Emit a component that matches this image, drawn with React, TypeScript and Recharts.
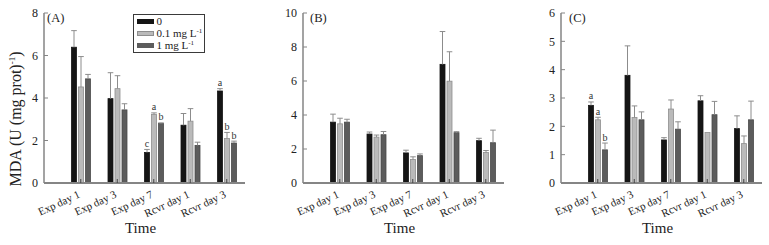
import React from 'react';
import { BarChart, Bar, XAxis, YAxis, Legend, Label } from 'recharts';

const FONT = '"Liberation Serif", "Times New Roman", serif';

const categories = ['Exp day 1', 'Exp day 3', 'Exp day 7', 'Rcvr day 1', 'Rcvr day 3'];
const seriesNames = ['0', '0.1 mg L', '1 mg L'];

// Panel A
const aCtrl = [6.39, 3.97, 1.44, 2.72, 4.33];
const aCtrlErr = [0.78, 1.22, 0.14, 0.55, 0.11];
const aCtrlSig = ['', '', 'c', '', 'a'];
const aLow = [4.52, 4.44, 3.23, 2.91, 2.09];
const aLowErr = [1.43, 0.61, 0.07, 0.59, 0.29];
const aLowSig = ['', '', 'a', '', 'b'];
const aHigh = [4.9, 3.44, 2.8, 1.77, 1.88];
const aHighErr = [0.21, 0.29, 0.03, 0.15, 0.09];
const aHighSig = ['', '', 'b', '', 'b'];
const aTicks = [0, 2, 4, 6, 8];

// Panel B
const bCtrl = [3.58, 2.88, 1.77, 6.98, 2.49];
const bCtrlErr = [0.47, 0.12, 0.16, 1.93, 0.14];
const bLow = [3.48, 2.7, 1.38, 5.99, 1.79];
const bLowErr = [0.33, 0.12, 0.16, 1.73, 0.12];
const bHigh = [3.58, 2.84, 1.61, 2.96, 2.37];
const bHighErr = [0.17, 0.19, 0.1, 0.06, 0.74];
const bTicks = [0, 2, 4, 6, 8, 10];

// Panel C
const cCtrl = [2.74, 3.8, 1.52, 2.9, 1.92];
const cCtrlErr = [0.12, 1.04, 0.08, 0.18, 0.45];
const cCtrlSig = ['a', '', '', '', ''];
const cLow = [2.23, 2.31, 2.61, 1.78, 1.39];
const cLowErr = [0.09, 0.41, 0.32, 0, 0.27];
const cLowSig = ['a', '', '', '', ''];
const cHigh = [1.17, 2.23, 1.9, 2.41, 2.23];
const cHighErr = [0.24, 0.28, 0.26, 0.47, 0.66];
const cHighSig = ['b', '', '', '', ''];
const cTicks = [0, 1, 2, 3, 4, 5, 6];

const empty = ['', '', '', '', ''];

const build = (
  ctrl: number[], ctrlErr: number[], ctrlSig: string[],
  low: number[], lowErr: number[], lowSig: string[],
  high: number[], highErr: number[], highSig: string[]
) =>
  categories.map((time, i) => ({
    time,
    ctrl: ctrl[i], ctrlErr: ctrlErr[i], ctrlSig: ctrlSig[i],
    low: low[i], lowErr: lowErr[i], lowSig: lowSig[i],
    high: high[i], highErr: highErr[i], highSig: highSig[i],
  }));

const dataA = build(aCtrl, aCtrlErr, aCtrlSig, aLow, aLowErr, aLowSig, aHigh, aHighErr, aHighSig);
const dataB = build(bCtrl, bCtrlErr, empty, bLow, bLowErr, empty, bHigh, bHighErr, empty);
const dataC = build(cCtrl, cCtrlErr, cCtrlSig, cLow, cLowErr, cLowSig, cHigh, cHighErr, cHighSig);

const COLORS = { ctrl: '#151515', low: '#bababa', high: '#5c5c5c' };
const STROKES = { ctrl: '#151515', low: '#8e8e8e', high: '#4a4a4a' };

const makeShape = (key: 'ctrl' | 'low' | 'high') => (props: any) => {
  const { x, y, width, height, payload } = props;
  const v = payload[key];
  const e = payload[key + 'Err'] || 0;
  const s = payload[key + 'Sig'];
  const k = v ? height / v : 0;
  const top = y - e * k;
  const cx = x + width / 2;
  return (
    <g>
      <rect x={x} y={y} width={width} height={height} fill={COLORS[key]} stroke={STROKES[key]} strokeWidth={0.8} />
      {e > 0 && (
        <g stroke="#8c8c8c" strokeWidth={1}>
          <line x1={cx} x2={cx} y1={y} y2={top} />
          <line x1={x - 0.3} x2={x + width + 0.3} y1={top} y2={top} />
        </g>
      )}
      {s ? (
        <text x={cx} y={top - 2.5} textAnchor="middle" fontSize={10} fontFamily={FONT} fill="#333">
          {s}
        </text>
      ) : null}
    </g>
  );
};

const XTick = (props: any) => {
  const { x, y, payload } = props;
  return (
    <text
      x={x}
      y={y}
      transform={`rotate(-25 ${x} ${y})`}
      textAnchor="end"
      fontSize={11}
      fontFamily={FONT}
      fill="#222"
    >
      {payload.value}
    </text>
  );
};

const renderLegend = (props: any) => {
  const { payload } = props;
  return (
    <div
      style={{
        border: '1.5px solid #3a3a3a',
        width: 72,
        height: 39,
        boxSizing: 'border-box',
        padding: '0 0 0 3px',
        fontFamily: FONT,
        fontSize: 11,
        color: '#222',
        background: '#fff',
        whiteSpace: 'nowrap',
        overflow: 'hidden',
      }}
    >
      {(payload || []).map((e: any, i: number) => (
        <div key={i} style={{ display: 'flex', alignItems: 'center', height: 12.2 }}>
          <span
            style={{
              display: 'inline-block',
              width: 17,
              height: 5,
              boxSizing: 'border-box',
              background: e.color,
              border: `1px solid ${i === 1 ? '#8e8e8e' : e.color}`,
              marginRight: 2.5,
            }}
          />
          <span style={{ lineHeight: '11px' }}>
            {e.value}
            {i > 0 ? <sup style={{ fontSize: 7, lineHeight: 0, verticalAlign: 4 }}>-1</sup> : null}
          </span>
        </div>
      ))}
    </div>
  );
};

type PanelProps = {
  data: any[];
  left: number;
  width: number;
  rightMargin: number;
  domainMax: number;
  ticks: number[];
  letter: string;
  letterX: number;
  showYLabel?: boolean;
  showLegend?: boolean;
};

const Panel = ({ data, left, width, rightMargin, domainMax, ticks, letter, letterX, showYLabel, showLegend }: PanelProps) => (
  <div style={{ position: 'absolute', left, top: 0, width, height: 245 }}>
    <BarChart
      width={width}
      height={245}
      data={data}
      margin={{ top: 13, right: rightMargin, bottom: 0, left: 10 }}
      barGap={2}
    >
      <XAxis
        dataKey="time"
        interval={0}
        padding={{ left: 18.5, right: 0 }}
        height={62}
        axisLine={{ stroke: '#858585', strokeWidth: 2 }}
        tickLine={{ stroke: '#444', strokeWidth: 1 }}
        tickSize={-4}
        tickMargin={18}
        tick={<XTick />}
      >
        <Label
          content={(p: any) => {
            const vb = p.viewBox || {};
            return (
              <text
                x={vb.x + vb.width / 2 - 4}
                y={vb.y + 50}
                textAnchor="middle"
                fontSize={15}
                fontFamily={FONT}
                fill="#222"
              >
                Time
              </text>
            );
          }}
        />
      </XAxis>
      <YAxis
        type="number"
        domain={[0, domainMax]}
        ticks={ticks}
        width={34}
        axisLine={{ stroke: '#858585', strokeWidth: 1.5 }}
        tickLine={{ stroke: '#858585', strokeWidth: 1 }}
        tickSize={-4}
        tickMargin={10}
        tick={{ fontSize: 12, fontFamily: FONT, fill: '#222' }}
      >
        {showYLabel ? (
          <Label
            content={() => (
              <text
                x={20.5}
                y={119}
                transform="rotate(-90 20.5 119)"
                textAnchor="middle"
                fontSize={16}
                fontFamily={FONT}
                fill="#222"
              >
                MDA (U (mg prot)
                <tspan fontSize={9} dy={-6}>-1</tspan>
                <tspan dy={6}>)</tspan>
              </text>
            )}
          />
        ) : null}
      </YAxis>
      {showLegend ? (
        <Legend
          layout="horizontal"
          verticalAlign="middle"
          align="center"
          content={renderLegend}
          wrapperStyle={{ position: 'absolute', left: 133, top: 14, width: 72, height: 39, right: 'auto', bottom: 'auto' }}
        />
      ) : null}
      <Bar dataKey="ctrl" name={seriesNames[0]} fill={COLORS.ctrl} barSize={5} isAnimationActive={false} shape={makeShape('ctrl')} />
      <Bar dataKey="low" name={seriesNames[1]} fill={COLORS.low} barSize={5} isAnimationActive={false} shape={makeShape('low')} />
      <Bar dataKey="high" name={seriesNames[2]} fill={COLORS.high} barSize={5} isAnimationActive={false} shape={makeShape('high')} />
      <text x={letterX} y={22} fontSize={12.5} fontFamily={FONT} fill="#222">
        {letter}
      </text>
    </BarChart>
  </div>
);

export default function App() {
  return (
    <div style={{ position: 'absolute', left: 0, top: 0, width: 769, height: 245, background: '#fff', overflow: 'hidden' }}>
      <Panel data={dataA} left={0} width={256} rightMargin={11} domainMax={8} ticks={aTicks} letter="(A)" letterX={47} showYLabel showLegend />
      <Panel data={dataB} left={259} width={257} rightMargin={12} domainMax={10} ticks={bTicks} letter="(B)" letterX={51} />
      <Panel data={dataC} left={517} width={252} rightMargin={7} domainMax={6} ticks={cTicks} letter="(C)" letterX={52} />
    </div>
  );
}
